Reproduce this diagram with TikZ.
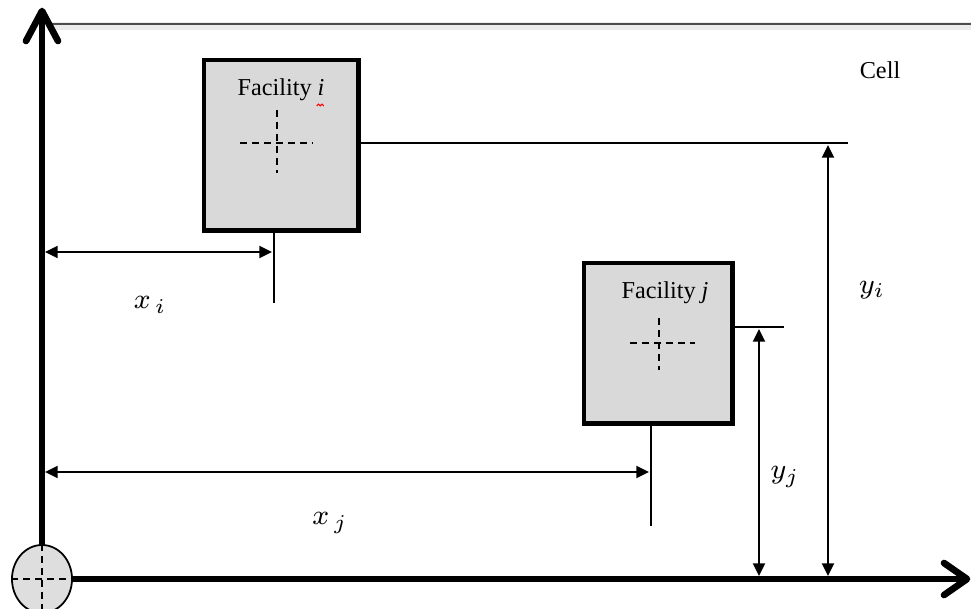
\documentclass[tikz,border=0pt]{standalone}
\usepackage{fontspec}
\setmainfont{Liberation Serif}
\usetikzlibrary{arrows.meta,shapes.geometric}
\begin{document}
\begin{tikzpicture}[x=0.01cm,y=-0.01cm,
  axisline/.style={line width=1.45pt, line cap=round, line join=round},
  headline/.style={line width=1.9pt, line cap=round, line join=round},
  facbox/.style={draw, line width=1.4pt, fill=black!15, inner sep=0pt, outer sep=0pt},
  guide/.style={line width=0.6pt},
  dimline/.style={line width=0.6pt, {Triangle[length=3.6pt,width=3.4pt]}-{Triangle[length=3.6pt,width=3.4pt]}},
  crossline/.style={dash pattern=on 2pt off 1.4pt, line width=0.4pt},
  lbl/.style={font=\fontsize{6.9}{8}\selectfont, inner sep=0pt},
  mlbl/.style={font=\fontsize{8.5}{10}\selectfont, inner sep=0pt}]
\useasboundingbox (0,0) rectangle (971,608);

% top border line of the cell
\coordinate (tl) at (52,24);
\coordinate (tr) at (971,24);
\draw[black!8, line width=2.2pt] ([yshift=-0.6pt]tl) -- ([yshift=-0.6pt]tr);
\draw[black!70, line width=0.5pt] (tl) -- (tr);
\node[lbl] (cell) at (880,70) {Cell};

% axes
\coordinate (o) at (42,579);
\coordinate (ytip) at (42,11);
\coordinate (xtip) at (967,579);
\draw[axisline] (o) -- ([yshift=-1pt]ytip);
\draw[headline] (26,41) -- (ytip) -- (58,41);
\draw[axisline] (o) -- ([xshift=-1pt]xtip);
\draw[headline] (944,563) -- (xtip) -- (944,595);

% origin marker
\node[ellipse, draw, line width=0.5pt, fill=black!13, minimum width=0.6cm, minimum height=0.68cm, inner sep=0pt] (orig) at (o) {};
\draw[crossline] (orig.north) -- (orig.south);
\draw[crossline] (orig.west) -- (orig.east);

% facility i
\node[facbox, minimum width=1.54cm, minimum height=1.7cm] (bi) at (281,145) {};
\node[lbl] (fi) at (281,90) {Facility \textit{i}};
\draw[red, line width=0.3pt] ([xshift=-2.4pt,yshift=-1.2pt]fi.south east) -- ++(0.5pt,0.5pt) -- ++(0.5pt,-0.5pt) -- ++(0.5pt,0.5pt) -- ++(0.5pt,-0.5pt);
\draw[crossline] (277,110) -- (277,173);
\draw[crossline] (240,143) -- (313,143);

% facility j
\node[facbox, minimum width=1.48cm, minimum height=1.6cm] (bj) at (658,343) {};
\node[lbl] (fj) at (665,293) {Facility \textit{j}};
\draw[crossline] (659,318) -- (659,370);
\draw[crossline] (630,343) -- (695,343);

% guide lines
\coordinate (gi) at (848,143);
\coordinate (gj) at (784,327);
\coordinate (ti) at (274,303);
\coordinate (tj) at (651,526);
\draw[guide] (bi.east |- gi) -- (gi);
\draw[guide] (bj.east |- gj) -- (gj);
\draw[guide] (bi.south -| ti) -- (ti);
\draw[guide] (bj.south -| tj) -- (tj);

% dimension arrows
\draw[dimline] (45,252) -- (272,252);
\draw[dimline] (45,472) -- (649,472);
\draw[dimline] (759,329) -- (759,576);
\draw[dimline] (828,145) -- (828,576);

% labels
\node[mlbl] (lxi) at (150,305) {$x_{\,i}$};
\node[mlbl] (lxj) at (330,523) {$x_{\,j}$};
\node[mlbl] (lyi) at (872,290) {$y_i$};
\node[mlbl] (lyj) at (785,477) {$y_j$};
\end{tikzpicture}
\end{document}
